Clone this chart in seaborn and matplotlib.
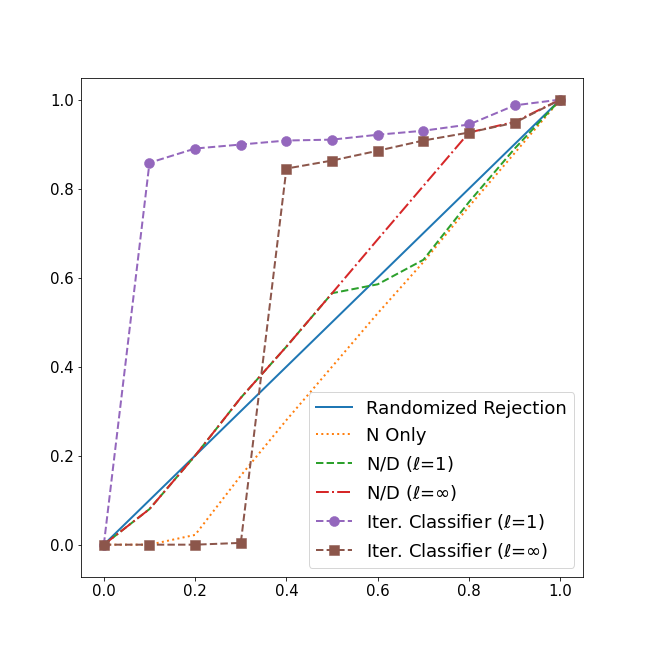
import numpy as np
import matplotlib
matplotlib.use('Agg')
import matplotlib.pyplot as plt
import seaborn as sns

plt.rcParams['font.size'] = 15

# rejection fraction on x
x_vals = [0.0, 0.1, 0.2, 0.3, 0.4, 0.5, 0.6, 0.7, 0.8, 0.9, 1.0]

rand_rej = [0.0, 0.1, 0.2, 0.3, 0.4, 0.5, 0.6, 0.7, 0.8, 0.9, 1.0]
n_only = [0.0, 0.0, 0.022, 0.155, 0.28, 0.40, 0.52, 0.635, 0.76, 0.88, 1.0]
nd_l1 = [0.0, 0.08, 0.2, 0.33, 0.445, 0.565, 0.585, 0.64, 0.77, 0.89, 1.0]
nd_linf = [0.0, 0.08, 0.2, 0.33, 0.445, 0.565, 0.686, 0.806, 0.926, 0.95, 1.0]
iter_l1 = [0.0, 0.858, 0.890, 0.899, 0.908, 0.910, 0.921, 0.930, 0.944, 0.987, 1.0]
iter_linf = [0.0, 0.0, 0.0, 0.004, 0.845, 0.863, 0.885, 0.908, 0.926, 0.948, 1.0]

series = [
    ('Randomized Rejection', rand_rej, '-', None),
    ('N Only', n_only, ':', None),
    (r'N/D ($\ell$=1)', nd_l1, '--', None),
    (r'N/D ($\ell$=$\infty$)', nd_linf, '-.', None),
    (r'Iter. Classifier ($\ell$=1)', iter_l1, '--', 'o'),
    (r'Iter. Classifier ($\ell$=$\infty$)', iter_linf, '--', 's'),
]
colors = sns.color_palette('tab10')

fig, ax = plt.subplots(figsize=(9, 9), dpi=72)
for i, (name, vals, ls, mk) in enumerate(series):
    kw = {}
    if mk is not None:
        kw = dict(marker=mk, markersize=10, markeredgecolor=colors[i], markeredgewidth=0.5)
    sns.lineplot(x=x_vals, y=vals, ax=ax, color=colors[i], linestyle=ls,
                 linewidth=2, label=name, **kw)

ax.set_xticks([0.0, 0.2, 0.4, 0.6, 0.8, 1.0])
ax.set_yticks([0.0, 0.2, 0.4, 0.6, 0.8, 1.0])
ax.set_ylim(-0.072, 1.049)
ax.tick_params(labelsize=15)
ax.legend(loc='lower right', fontsize=18)

plt.savefig('out.png', dpi=72)
